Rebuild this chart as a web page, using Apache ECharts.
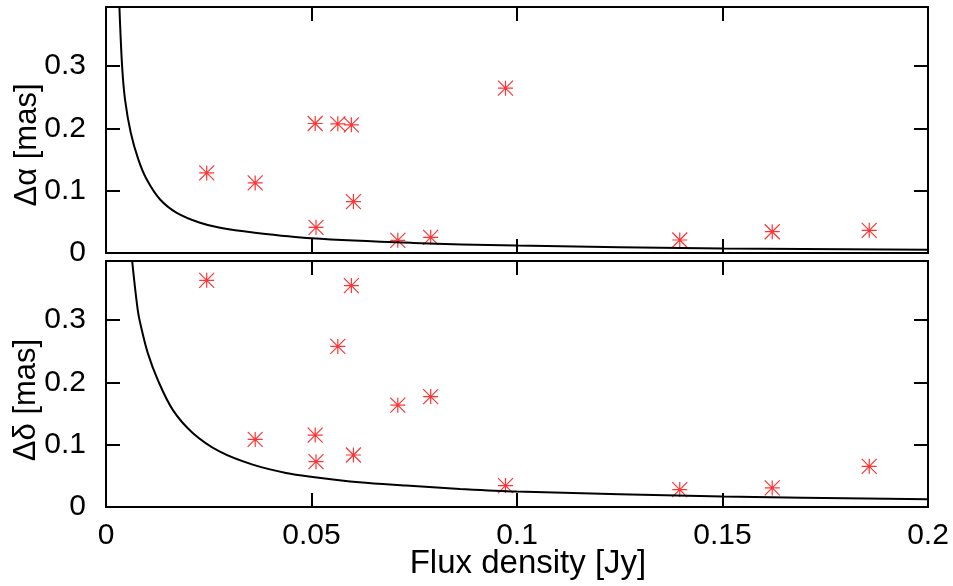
<!DOCTYPE html>
<html><head><meta charset="utf-8">
<script src="https://cdn.jsdelivr.net/npm/echarts@6/dist/echarts.min.js"></script>
<style>html,body{margin:0;padding:0;background:#fff}#c{width:953px;height:586px}</style>
</head><body><div id="c"></div>
<script>
// ---- data ----
const xTicks = [0, 0.05, 0.1, 0.15, 0.2];
const yTicks = [0, 0.1, 0.2, 0.3];
const flux   = [0.0245, 0.0363, 0.0509, 0.0511, 0.0564, 0.0597, 0.0602, 0.0710, 0.0790, 0.0972, 0.1396, 0.1621, 0.1857];
const dAlpha = [0.1286, 0.1125, 0.2079, 0.0412, 0.2074, 0.2058, 0.0825, 0.0203, 0.0251, 0.2647, 0.0209, 0.0342, 0.0364];
const dDelta = [0.3640, 0.1085, 0.1155, 0.0728, 0.2579, 0.3555, 0.0835, 0.1635, 0.1773, 0.0344, 0.0280, 0.0307, 0.0653];
const curveAlphaX = [0.00326, 0.00392, 0.00464, 0.00603, 0.00788, 0.00992, 0.01316, 0.01722, 0.02288, 0.02775, 0.0358, 0.050, 0.0748, 0.0999, 0.150, 0.200];
const curveAlphaY = [0.396, 0.300, 0.246, 0.193, 0.150, 0.118, 0.0859, 0.0645, 0.0485, 0.0404, 0.0328, 0.0236, 0.0162, 0.0120, 0.0074, 0.0054];
const curveDeltaX = [0.00635, 0.00773, 0.00854, 0.01017, 0.0126, 0.01625, 0.0211, 0.0276, 0.0357, 0.0438, 0.0503, 0.0616, 0.0730, 0.0861, 0.0999, 0.150, 0.200];
const curveDeltaY = [0.396, 0.316, 0.289, 0.247, 0.204, 0.156, 0.119, 0.0893, 0.0680, 0.0547, 0.0483, 0.0397, 0.0344, 0.0290, 0.0248, 0.0170, 0.0124];
const yMax = 0.395;

const FONT = 'Liberation Sans';
const star = 'path://M-1,0L1,0M0,-1L0,1M-1,-1L1,1M-1,1L1,-1';
const zip = (a, b) => a.map((v, i) => [v, b[i]]);

function xAx(grid, pos, labels) {
  return {
    type: 'value', gridIndex: grid, position: pos, min: 0, max: 0.2,
    axisLine: { show: true, onZero: false, lineStyle: { color: '#000', width: 2 } },
    axisTick: { show: true, inside: true, length: 14, customValues: xTicks, lineStyle: { color: '#000', width: 2 } },
    axisLabel: { show: labels, customValues: xTicks, margin: 14, color: '#000', fontFamily: FONT, fontSize: 30,
                 formatter: v => String(v) },
    splitLine: { show: false }
  };
}
function yAx(grid, pos, labels) {
  return {
    type: 'value', gridIndex: grid, position: pos, min: 0, max: yMax,
    axisLine: { show: true, onZero: false, lineStyle: { color: '#000', width: 2 } },
    axisTick: { show: true, inside: true, length: 14, customValues: yTicks, lineStyle: { color: '#000', width: 2 } },
    axisLabel: { show: labels, customValues: yTicks, margin: 20, color: '#000', fontFamily: FONT, fontSize: 30,
                 formatter: v => String(v) },
    splitLine: { show: false }
  };
}

const chart = echarts.init(document.getElementById('c'), null, { renderer: 'canvas' });
chart.setOption({
  backgroundColor: '#fff',
  animation: false,
  grid: [
    { left: 106, top: 7, width: 822, height: 246 },
    { left: 106, top: 261, width: 822, height: 246 }
  ],
  xAxis: [xAx(0, 'bottom', false), xAx(0, 'top', false), xAx(1, 'bottom', true), xAx(1, 'top', false)],
  yAxis: [yAx(0, 'left', true), yAx(0, 'right', false), yAx(1, 'left', true), yAx(1, 'right', false)],
  series: [
    { type: 'line', xAxisIndex: 0, yAxisIndex: 0, data: zip(curveAlphaX, curveAlphaY), showSymbol: false,
      smooth: 0.35, clip: true, lineStyle: { color: '#000', width: 2 }, silent: true },
    { type: 'scatter', xAxisIndex: 0, yAxisIndex: 0, data: zip(flux, dAlpha), symbol: star, symbolSize: 15,
      itemStyle: { color: 'none', borderColor: '#ff0000', borderWidth: 1.2 } },
    { type: 'line', xAxisIndex: 2, yAxisIndex: 2, data: zip(curveDeltaX, curveDeltaY), showSymbol: false,
      smooth: 0.35, clip: true, lineStyle: { color: '#000', width: 2 }, silent: true },
    { type: 'scatter', xAxisIndex: 2, yAxisIndex: 2, data: zip(flux, dDelta), symbol: star, symbolSize: 15,
      itemStyle: { color: 'none', borderColor: '#ff0000', borderWidth: 1.2 } }
  ],
  graphic: [
    { type: 'text', x: 27, y: 145, rotation: Math.PI / 2,
      style: { text: 'Δα [mas]', fontFamily: FONT, fontSize: 31, fill: '#000', textAlign: 'center', textVerticalAlign: 'middle' } },
    { type: 'text', x: 26, y: 400, rotation: Math.PI / 2,
      style: { text: 'Δδ [mas]', fontFamily: FONT, fontSize: 31, fill: '#000', textAlign: 'center', textVerticalAlign: 'middle' } },
    { type: 'text', x: 528, y: 564,
      style: { text: 'Flux density [Jy]', fontFamily: FONT, fontSize: 33, fill: '#000', textAlign: 'center', textVerticalAlign: 'middle' } }
  ]
});
</script></body></html>
